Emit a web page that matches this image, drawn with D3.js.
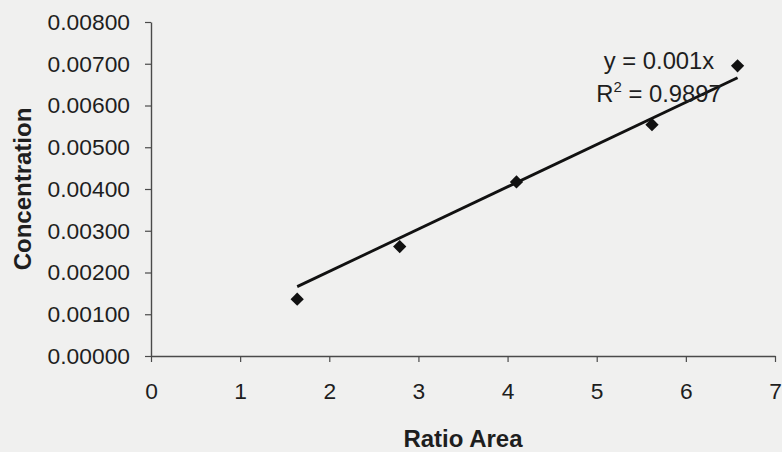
<!DOCTYPE html>
<html>
<head>
<meta charset="utf-8">
<script src="https://cdn.jsdelivr.net/npm/d3@7"></script>
<style>
  html, body { margin: 0; padding: 0; background: #f0f0ef; }
  svg { display: block; }
  text { font-family: "Liberation Sans", Arial, Helvetica, sans-serif; fill: #1e1e1e; }
</style>
</head>
<body>
<svg id="chart" width="782" height="452"></svg>
<script>
// Data
const ratioArea     = [1.64, 2.79, 4.10, 5.62, 6.58];
const concentration = [0.00136, 0.00262, 0.00417, 0.00554, 0.00695];
const xTicks = [0, 1, 2, 3, 4, 5, 6, 7];
const yTicks = [0, 0.001, 0.002, 0.003, 0.004, 0.005, 0.006, 0.007, 0.008];
const equationLabel = "y = 0.001x";
const r2Label = "0.9897";
const xTitle = "Ratio Area";
const yTitle = "Concentration";

const svg = d3.select("#chart");
svg.append("rect").attr("width", 782).attr("height", 452).attr("fill", "#f0f0ef");

const x = d3.scaleLinear().domain([0, 7]).range([151, 775]);
const y = d3.scaleLinear().domain([0, 0.008]).range([356, 22]);

// Axes
const xAxis = d3.axisBottom(x).tickValues(xTicks).tickFormat(d3.format("d"))
  .tickSizeInner(6).tickSizeOuter(0).tickPadding(21);
const yAxis = d3.axisLeft(y).tickValues(yTicks).tickFormat(d3.format(".5f"))
  .tickSizeInner(6).tickSizeOuter(0).tickPadding(15);

const gx = svg.append("g").attr("transform", `translate(0,${y(0)})`).call(xAxis);
const gy = svg.append("g").attr("transform", `translate(${x(0)},0)`).call(yAxis);

[gx, gy].forEach(g => {
  g.select(".domain").attr("stroke", "#4a4a4a").attr("stroke-width", 1.4);
  g.selectAll(".tick line").attr("stroke", "#4a4a4a").attr("stroke-width", 1.2);
  g.selectAll(".tick text")
    .style("font-family", "'Liberation Sans', Arial, sans-serif")
    .style("font-size", "22.8px")
    .attr("fill", "#1e1e1e");
});

// Trendline: least squares through the origin
const sxy = d3.sum(ratioArea, (d, i) => d * concentration[i]);
const sxx = d3.sum(ratioArea, d => d * d);
const slope = sxy / sxx;
const xMin = d3.min(ratioArea), xMax = d3.max(ratioArea);
const line = d3.line().x(d => x(d)).y(d => y(slope * d));
svg.append("path")
  .datum([xMin, xMax])
  .attr("d", line)
  .attr("fill", "none")
  .attr("stroke", "#111")
  .attr("stroke-width", 2.8);

// Points (diamonds)
const pts = ratioArea.map((d, i) => ({ x: d, y: concentration[i] }));
const sym = d3.symbol().type(d3.symbolSquare).size(88);
svg.append("g").selectAll("path").data(pts).join("path")
  .attr("d", sym)
  .attr("transform", d => `translate(${x(d.x)},${y(d.y)}) rotate(45)`)
  .attr("fill", "#111");

// Equation labels
const eq = svg.append("g").attr("text-anchor", "middle")
  .style("font-size", "23.8px");
eq.append("text").attr("x", 659).attr("y", 69).text(equationLabel);
const r2 = eq.append("text").attr("x", 659).attr("y", 102);
r2.append("tspan").text("R");
r2.append("tspan").attr("dy", -10).style("font-size", "15px").text("2");
r2.append("tspan").attr("dy", 10).text(" = " + r2Label);

// Axis titles
svg.append("text")
  .attr("x", (x(0) + x(7)) / 2).attr("y", 447)
  .attr("text-anchor", "middle")
  .style("font-size", "24px").style("font-weight", "bold")
  .text(xTitle);

svg.append("text")
  .attr("transform", `translate(31,${(y(0) + y(0.008)) / 2}) rotate(-90)`)
  .attr("text-anchor", "middle")
  .style("font-size", "24px").style("font-weight", "bold")
  .text(yTitle);
</script>
</body>
</html>
